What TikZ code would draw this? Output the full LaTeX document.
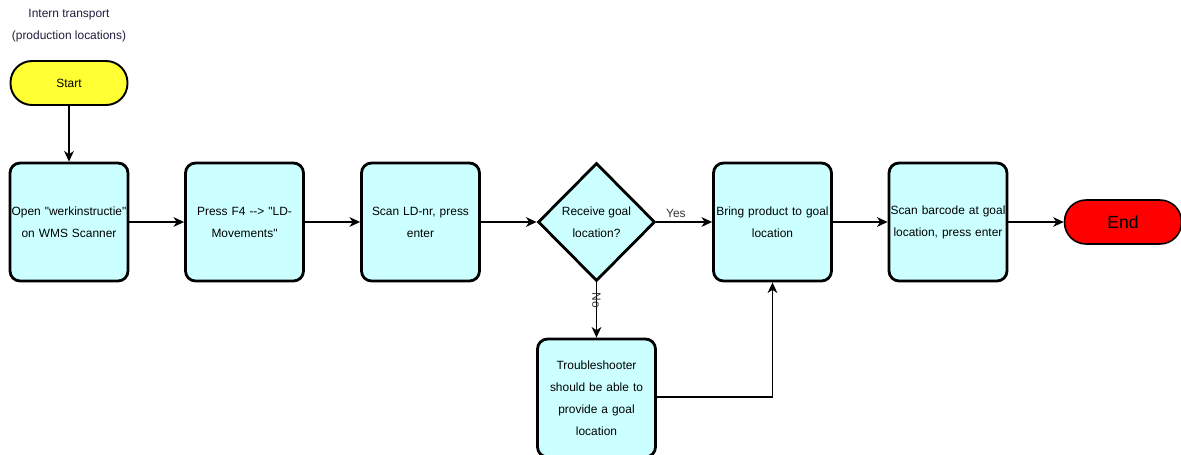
\documentclass[tikz,border=0pt]{standalone}
\usepackage{fontspec}
\setmainfont{Liberation Sans}[Ligatures=TeXOff]
\usetikzlibrary{arrows.meta,shapes.geometric}
\definecolor{boxfill}{HTML}{CCFFFF}
\definecolor{startfill}{HTML}{FFFF33}
\definecolor{endfill}{HTML}{FF0000}
\definecolor{titlecol}{HTML}{1E1E3C}
\begin{document}
\begin{tikzpicture}[x=0.02cm,y=-0.02cm,
  txt/.style={font=\fontsize{6.8pt}{12.5pt}\selectfont, align=center},
  stepbox/.style={txt, draw=black, line width=1.6pt, fill=boxfill, rounded corners=0.2cm,
    minimum width=2.36cm, minimum height=2.36cm, inner sep=0pt, text width=2.3cm},
  decide/.style={txt, draw=black, line width=1.6pt, fill=boxfill, diamond, aspect=1,
    minimum width=2.34cm, minimum height=2.36cm, inner sep=0pt},
  terminal/.style={draw=black, rounded corners=0.43cm, minimum width=2.34cm,
    minimum height=0.88cm, inner sep=0pt},
  flow/.style={draw=black, line width=0.75pt, -{Stealth[length=6pt,width=5.5pt,inset=1.8pt]}},
  lbl/.style={font=\fontsize{6.8pt}{8pt}\selectfont, text=black!80}]
\useasboundingbox (0,0) rectangle (1181,454);

% heading
\node[txt, text=titlecol] (title) at (69,26) {Intern transport\\(production locations)};

% terminals
\node[terminal, fill=startfill, line width=1.1pt, txt] (start) at (69,83) {Start};
\node[terminal, fill=endfill, line width=0.9pt, font=\fontsize{10pt}{12pt}\selectfont] (end) at (1123,222) {End};

% process steps
\node[stepbox] (open)  at (69,222)    {Open "werkinstructie"\\on WMS Scanner};
\node[stepbox] (press) at (244.5,222) {Press F4 --> "LD-\\Movements"};
\node[stepbox] (scan)  at (420.5,222) {Scan LD-nr, press\\enter};
\node[decide]  (recv)  at (596.5,222) {Receive goal\\location?};
\node[stepbox] (bring) at (772.5,222) {Bring product to goal\\location};
\node[stepbox] (scanb) at (948,222)   {Scan barcode at goal\\location, press enter};
\node[stepbox] (trbl)  at (596.5,398) {Troubleshooter\\should be able to\\provide a goal\\location};

% connectors
\draw[flow] (start) -- (open);
\draw[flow] (open) -- (press);
\draw[flow] (press) -- (scan);
\draw[flow] (scan) -- (recv);
\draw[flow] (recv) -- node[lbl, pos=0.35, above=-1pt] {Yes} (bring);
\draw[flow] (bring) -- (scanb);
\draw[flow] (scanb) -- (end);
\draw[flow] (recv) -- node[lbl, pos=0.33, rotate=-90] {No} (trbl);
\draw[flow] (trbl.east |- 0,397) -| (bring);
\end{tikzpicture}
\end{document}
